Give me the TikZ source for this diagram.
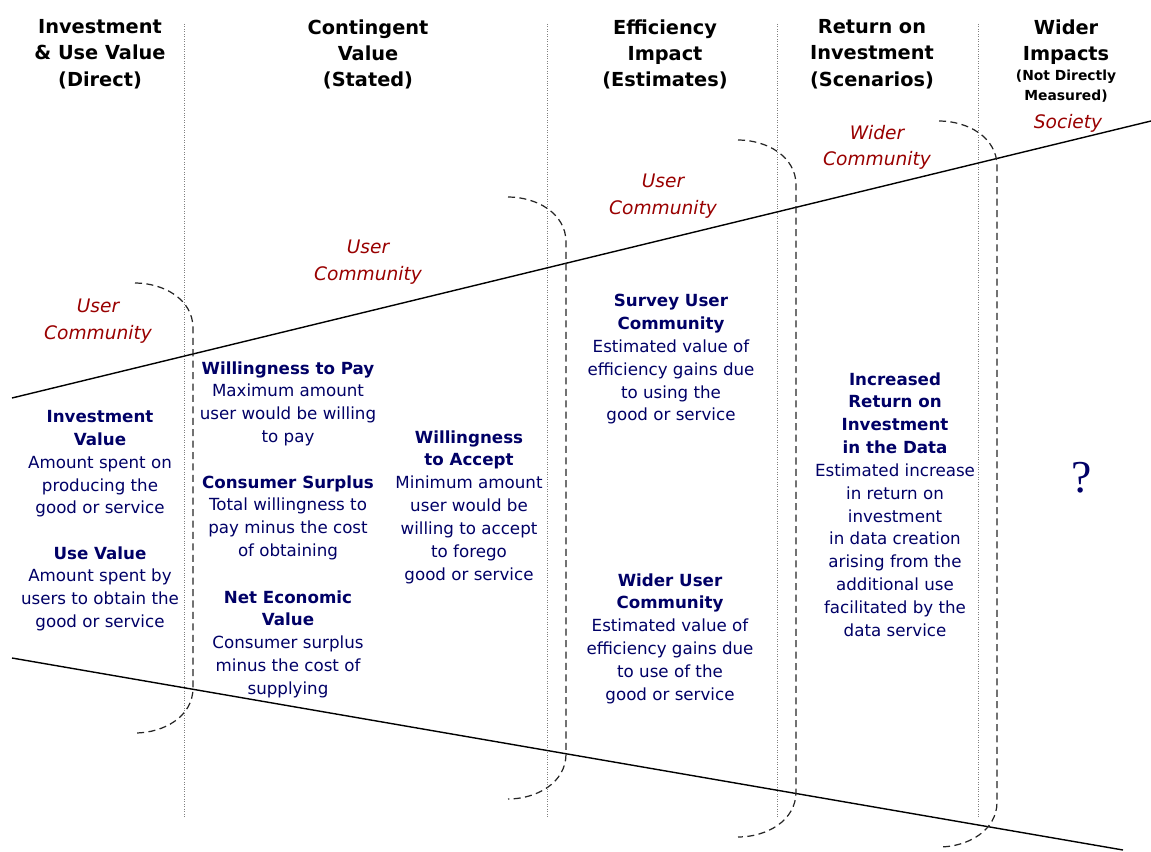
\documentclass[tikz,border=0pt]{standalone}
\usepackage{fontspec}
\setmainfont{DejaVu Sans}
\newfontfamily\qmarkfont{Liberation Serif}
\definecolor{valblue}{RGB}{0,0,102}
\definecolor{commred}{RGB}{153,0,0}
\begin{document}
\begin{tikzpicture}[x=0.02cm, y=-0.02cm, inner sep=0pt,
    colhead/.style={anchor=north, align=center, font=\fontsize{11}{15}\selectfont\bfseries},
    subhead/.style={anchor=north, align=center, font=\fontsize{7.9}{11.3}\selectfont\bfseries},
    community/.style={anchor=north, align=center, text=commred, font=\fontsize{10.6}{15}\selectfont\itshape},
    valuetext/.style={anchor=north, align=center, text=valblue, font=\fontsize{9.5}{13}\selectfont},
    colsep/.style={densely dotted, gray, line width=0.4pt},
    funnel/.style={black, line width=0.8pt},
    brace/.style={dashed, black!85, line width=0.7pt, dash pattern=on 4pt off 2.5pt}]
    \useasboundingbox (0,0) rectangle (1151,851);
    % column separators
    \foreach \cx [count=\i] in {184,547,777,978} {
        \coordinate (sep\i t) at (\cx,24);
        \coordinate (sep\i b) at (\cx,817);
        \draw[colsep] (sep\i t) -- (sep\i b);
    }
    % funnel
    \coordinate (upL) at (12,398);
    \coordinate (upR) at (1151,121);
    \coordinate (loL) at (12,658);
    \coordinate (loR) at (1123,850);
    \draw[funnel] (upL) -- (upR);
    \draw[funnel] (loL) -- (loR);
    % community braces
    \foreach \bx/\bt/\bb [count=\i] in {135/283/733, 508/197/799, 738/140/837, 939/121/847} {
        \coordinate (br\i a) at (\bx,\bt);
        \coordinate (br\i b) at (\bx+58,\bt+45);
        \coordinate (br\i c) at (\bx+58,\bb-45);
        \coordinate (br\i d) at (\bx,\bb);
        \draw[brace] (br\i a) to[out=0, in=90] (br\i b) -- (br\i c) to[out=-90, in=0] (br\i d);
    }
    % headings
    \node[colhead] (hdirect) at (100,19) {Investment\\\& Use Value\\(Direct)};
    \node[colhead] (hstated) at (368,19) {Contingent\\Value\\(Stated)};
    \node[colhead] (hestim) at (665,19) {Efficiency\\Impact\\(Estimates)};
    \node[colhead] (hscen) at (872,19) {Return on\\Investment\\(Scenarios)};
    \node[colhead] (hwider) at (1066,19) {Wider\\Impacts};
    \node[subhead] (hnotmeas) at (1066,70) {(Not Directly\\Measured)};
    % communities
    \node[community] (uc1) at (98,299) {User\\Community};
    \node[community] (uc2) at (368,240) {User\\Community};
    \node[community] (uc3) at (663,174) {User\\Community};
    \node[community] (wc) at (877,125) {Wider\\Community};
    \node[community] (soc) at (1068,114) {Society};
    % value blocks
    \node[valuetext] (inv) at (100,410) {\textbf{Investment}\\\textbf{Value}\\Amount spent on\\producing the\\good or service};
    \node[valuetext] (use) at (100,546) {\textbf{Use Value}\\Amount spent by\\users to obtain the\\good or service};
    \node[valuetext] (wtp) at (288,361) {\textbf{Willingness to Pay}\\Maximum amount\\user would be willing\\to pay};
    \node[valuetext] (cs) at (288,475) {\textbf{Consumer Surplus}\\Total willingness to\\pay minus the cost\\of obtaining};
    \node[valuetext] (nev) at (288,590) {\textbf{Net Economic}\\\textbf{Value}\\Consumer surplus\\minus the cost of\\supplying};
    \node[valuetext] (wta) at (469,430) {\textbf{Willingness}\\\textbf{to Accept}\\Minimum amount\\user would be\\willing to accept\\to forego\\good or service};
    \node[valuetext] (suc) at (671,294) {\textbf{Survey User}\\\textbf{Community}\\Estimated value of\\efficiency gains due\\to using the\\good or service};
    \node[valuetext] (wuc) at (670,573) {\textbf{Wider User}\\\textbf{Community}\\Estimated value of\\efficiency gains due\\to use of the\\good or service};
    \node[valuetext] (iroi) at (895,372) {\textbf{Increased}\\\textbf{Return on}\\\textbf{Investment}\\\textbf{in the Data}\\Estimated increase\\in return on\\investment\\in data creation\\arising from the\\additional use\\facilitated by the\\data service};
    \node[text=valblue, font=\qmarkfont\fontsize{26}{26}\selectfont] (unknown) at (1082,478) {?};
\end{tikzpicture}
\end{document}
